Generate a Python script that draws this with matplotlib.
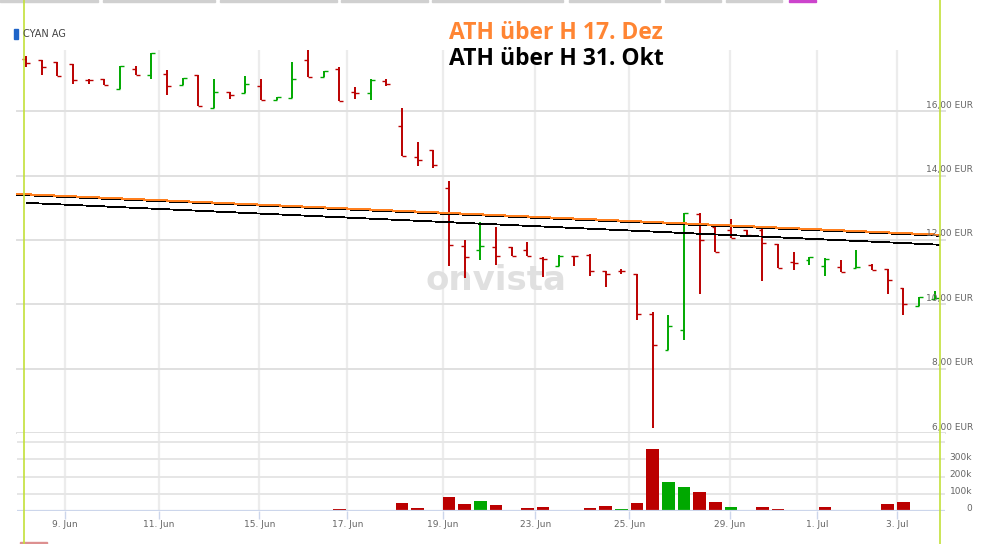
import numpy as np
import matplotlib
matplotlib.use('Agg')
import matplotlib.pyplot as plt
from matplotlib.patches import Rectangle
from matplotlib.lines import Line2D

# OHLC bars (EUR), one per intraday period
opens = [17.63, 17.58, 17.52, 17.48, 16.98, 17.00, 16.69, 17.31, 17.13, 17.16,
         16.82, 17.11, 16.10, 16.61, 16.57, 16.77, 16.34, 16.41, 17.60, 17.06,
         17.32, 16.60, 16.57, 16.93, 15.55, 14.58, 14.80, 13.61, 11.82, 11.70,
         11.77, 11.77, 11.70, 11.44, 11.20, 11.51, 11.54, 11.02, 11.02, 10.95,
         9.70, 8.59, 9.20, 12.79, 12.40, 12.32, 12.32, 12.32, 11.88, 11.30,
         11.36, 11.20, 11.15, 11.13, 11.23, 11.10, 10.51, 9.94, 10.15]
highs = [17.70, 17.58, 17.52, 17.48, 16.99, 17.00, 17.39, 17.41, 17.82, 17.29,
         17.04, 17.11, 17.00, 16.61, 17.08, 17.01, 16.45, 17.52, 17.91, 17.26,
         17.37, 16.74, 17.00, 17.00, 16.11, 15.03, 14.80, 13.82, 12.01, 12.55,
         12.39, 11.77, 11.93, 11.47, 11.54, 11.51, 11.57, 11.02, 11.11, 10.95,
         9.76, 9.66, 12.82, 12.82, 12.40, 12.66, 12.32, 12.34, 11.88, 11.61,
         11.46, 11.44, 11.36, 11.70, 11.25, 11.11, 10.51, 10.22, 10.40]
lows = [17.37, 17.11, 17.08, 16.84, 16.84, 16.82, 16.69, 17.13, 17.00, 16.51,
        16.82, 16.15, 16.10, 16.38, 16.57, 16.34, 16.34, 16.41, 17.06, 17.06,
        16.30, 16.39, 16.34, 16.77, 14.60, 14.31, 14.24, 11.18, 10.82, 11.37,
        11.21, 11.51, 11.51, 10.84, 11.20, 11.18, 10.87, 10.53, 10.94, 9.50,
        6.16, 8.59, 8.88, 10.33, 11.63, 12.06, 12.14, 10.71, 11.13, 11.06,
        11.21, 10.87, 10.99, 11.13, 11.05, 10.32, 9.66, 9.94, 10.15]
closes = [17.50, 17.37, 17.10, 16.96, 16.98, 16.82, 17.39, 17.13, 17.82, 16.79,
          17.04, 16.15, 16.61, 16.51, 16.85, 16.34, 16.45, 17.00, 17.06, 17.26,
          16.30, 16.57, 16.98, 16.84, 14.62, 14.49, 14.32, 11.85, 11.47, 11.82,
          11.51, 11.51, 11.51, 11.42, 11.49, 11.49, 11.02, 10.95, 11.02, 9.70,
          8.72, 9.34, 12.82, 12.01, 11.63, 12.06, 12.16, 11.91, 11.13, 11.29,
          11.46, 11.42, 11.01, 11.15, 11.05, 10.76, 10.01, 10.22, 10.20]
volume = [0, 0, 0, 0, 0, 0, 0, 0, 0, 0,
          0, 0, 0, 0, 0, 0, 0, 0, 0, 0,
          12000, 0, 0, 0, 48000, 17000, 7000, 81000, 41000, 59000,
          35000, 0, 18000, 24000, 7000, 6000, 17000, 29000, 12000, 48000,
          360000, 168000, 139000, 110000, 52000, 23000, 0, 23000, 12000, 6000,
          0, 23000, 0, 6000, 6000, 41000, 52000, 6000, 6000]

# x axis (bar index) and labels
tick_pos = [2.5, 8.5, 14.9, 20.5, 26.6, 32.5, 38.5, 44.9, 50.5, 55.6]
tick_labels = ['9. Jun', '11. Jun', '15. Jun', '17. Jun', '19. Jun',
               '23. Jun', '25. Jun', '29. Jun', '1. Jul', '3. Jul']
price_ticks = [6, 8, 10, 12, 14, 16]
vol_ticks = [0, 100000, 200000, 300000]
vol_tick_labels = ['0', '100k', '200k', '300k']

# drawn trend lines: (x start, x end), (value start, value end)
line_dez_x = [-0.57, 58.3]
line_dez_y = [13.40, 12.13]
line_okt_x = [0.06, 58.3]
line_okt_y = [13.15, 11.85]

RED = '#bb0000'
GREEN = '#00a800'
W, H = 995, 544


def frac(x0, y0, x1, y1):
    # pixel box (top-left origin) -> figure fraction rect
    return [x0 / W, 1 - y1 / H, (x1 - x0) / W, (y1 - y0) / H]


fig = plt.figure(figsize=(W / 100, H / 100), dpi=100)
ax = fig.add_axes(frac(17, 50, 945, 433))
axv = fig.add_axes(frac(17, 433, 945, 511))

x = np.arange(len(opens))
bar_col = [GREEN if c > o else RED for o, c in zip(opens, closes)]
vol_col = [RED] + [GREEN if closes[i] > closes[i - 1] else RED for i in range(1, len(closes))]

for a in (ax, axv):
    a.set_xlim(-0.574, 58.65)
    for s in a.spines.values():
        s.set_visible(False)
    for t in tick_pos:
        a.axvline(t, color='#ececec', lw=1.6, zorder=0)

# price panel
ax.set_ylim(6.0, 17.9)
for v in price_ticks:
    ax.axhline(v, color='#e0e0e0', lw=1.4, zorder=0.5, clip_on=False)
    ax.annotate('%d,00 EUR' % v, xy=(1.0302, v), xycoords=('axes fraction', 'data'),
                xytext=(0, 4.3), textcoords='offset points', ha='right', va='center',
                fontsize=6.5, color='#666666', annotation_clip=False, zorder=6)
ax.set_xticks([])
ax.set_yticks([])

ax.text(496 / W, 1 - 281 / H, 'onvista', transform=fig.transFigure, fontsize=24.5,
        fontweight='bold', color='#e0e0e0', ha='center', va='center', zorder=0.6)

ax.vlines(x, lows, highs, colors=bar_col, lw=1.4, zorder=3)
ax.hlines(opens, x - 0.25, x, colors=bar_col, lw=1.0, zorder=3)
ax.hlines(closes, x, x + 0.25, colors=bar_col, lw=1.0, zorder=3)

ax.plot(line_dez_x, line_dez_y, color='black', lw=0.6, antialiased=False, zorder=4, clip_on=False)
ax.plot(line_dez_x, np.array(line_dez_y) + 0.03, color='#ff7f1e', lw=0.75, antialiased=False,
        zorder=4, clip_on=False)
ax.plot(line_okt_x, line_okt_y, color='black', lw=0.6, antialiased=False, zorder=4)

# volume panel
axv.set_ylim(0, 452700)
for v in vol_ticks[1:] + [400000]:
    axv.axhline(v, color='#e6e6e6', lw=1.4, zorder=0.5)
axv.axhline(0, color='#ccd6eb', lw=1.6, zorder=3)
for v, lab in zip(vol_ticks, vol_tick_labels):
    axv.annotate(lab, xy=(1.0291, v), xycoords=('axes fraction', 'data'),
                 xytext=(0, 1.5), textcoords='offset points', ha='right', va='center',
                 fontsize=6.5, color='#666666', annotation_clip=False)
axv.bar(x, volume, width=0.81, color=vol_col, zorder=2)
axv.set_yticks([])
axv.set_xticks(tick_pos)
axv.set_xticklabels(tick_labels)
axv.tick_params(axis='x', length=5.5, width=1, color='#ccd6eb', pad=1,
                labelsize=6.5, labelcolor='#666666')

# legend and headings
fig.patches.append(Rectangle((14 / W, 1 - 39 / H), 4.5 / W, 10 / H, transform=fig.transFigure,
                             color='#1e64c8'))
fig.text(23 / W, 1 - 34 / H, 'CYAN AG', fontsize=7, color='#444444', va='center')
fig.text(449 / W, 1 - 33 / H, 'ATH über H 17. Dez', fontsize=16.5, fontweight='bold',
         family='Open Sans', color='#ff8533', va='center')
fig.text(449 / W, 1 - 59 / H, 'ATH über H 31. Okt', fontsize=16.5, fontweight='bold',
         family='Open Sans', color='black', va='center')

# page chrome around the chart
for x0, x1 in [(0, 98), (103, 215), (220, 337), (341, 428), (432, 563), (569, 660), (665, 721), (726, 782)]:
    fig.patches.append(Rectangle((x0 / W, 1 - 2 / H), (x1 - x0) / W, 2 / H,
                                 transform=fig.transFigure, color='#d0d0d0'))
fig.patches.append(Rectangle((789 / W, 1 - 2 / H), 27 / W, 2 / H, transform=fig.transFigure, color='#cc44cc'))
fig.patches.append(Rectangle((20 / W, 0), 27 / W, 2 / H, transform=fig.transFigure, color='#dd9090'))
for xp in (24, 940):
    fig.add_artist(Line2D([xp / W, xp / W], [0, 1], transform=fig.transFigure, color='#c2e03a', lw=1.2))

fig.savefig('out.png', dpi=100)
